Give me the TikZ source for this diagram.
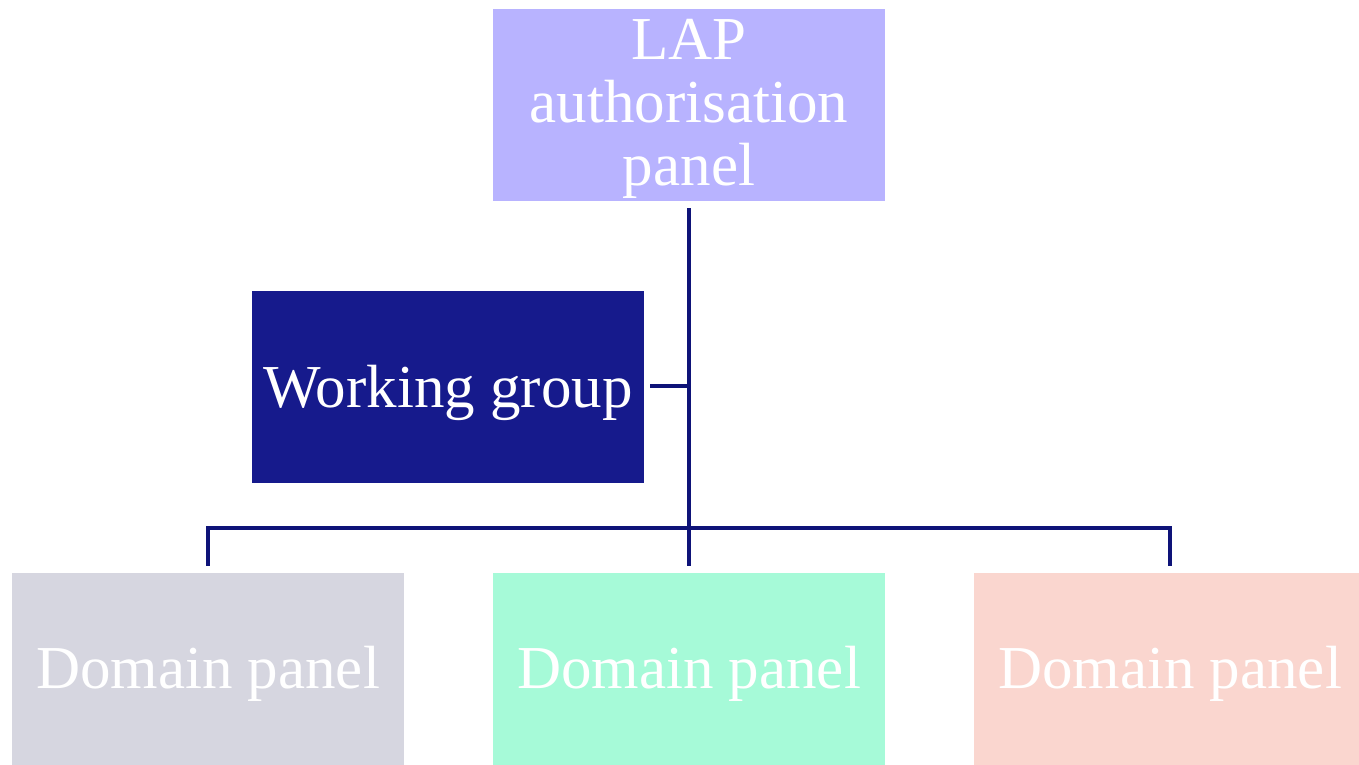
\documentclass[tikz,border=0pt]{standalone}
\usepackage{fontspec}
\setmainfont{Liberation Serif}
\definecolor{lapc}{HTML}{B8B3FF}
\definecolor{wgc}{HTML}{161A8C}
\definecolor{d1c}{HTML}{D6D6E0}
\definecolor{d2c}{HTML}{A6FAD8}
\definecolor{d3c}{HTML}{FAD6CF}
\definecolor{linec}{HTML}{0E1378}
\begin{document}
\begin{tikzpicture}[x=1pt,y=1pt,
  box/.style={minimum width=392pt,minimum height=192pt,inner sep=0pt},
  txt/.style={text=white,inner sep=0pt,font=\fontsize{61}{63}\selectfont,align=center},
  conn/.style={draw=linec,line width=4.5pt,line join=miter}]
\useasboundingbox (0,0) rectangle (1359,764);
\clip (0,0) rectangle (1359,764);
\node[box,fill=lapc] (lap) at (689,659) {};
\node[box,fill=wgc] (wg) at (448,377) {};
\node[box,fill=d1c] (dl) at (208,95) {};
\node[box,fill=d2c] (dm) at (689,95) {};
\node[box,fill=d3c] (dr) at (1170,95) {};
\node[txt] (lapt) at ([yshift=-4pt]lap.center) {LAP\\authorisation\\panel};
\node[txt] (wgt) at ([yshift=-6pt]wg.center) {Working group};
\node[txt] (dlt) at ([yshift=-5pt]dl.center) {Domain panel};
\node[txt] (dmt) at ([yshift=-5pt]dm.center) {Domain panel};
\node[txt] (drt) at ([yshift=-5pt]dr.center) {Domain panel};
\coordinate (bus) at (689,236);
\coordinate (j) at (689,378);
\draw[conn] ([yshift=-7pt]lap.south) -- ([yshift=7pt]dm.north);
\draw[conn] ([yshift=7pt]dl.north) |- (bus) -| ([yshift=7pt]dr.north);
\draw[conn] ([xshift=6pt]wg.east |- j) -- (j);
\end{tikzpicture}
\end{document}
